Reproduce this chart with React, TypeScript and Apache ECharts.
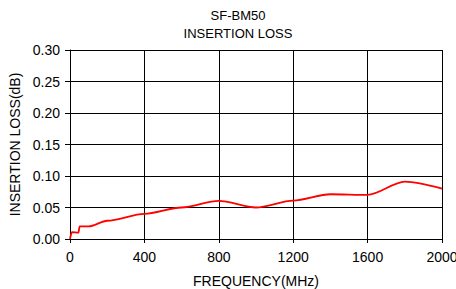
import React, { useEffect, useRef } from "react";
import * as echarts from "echarts";

const frequencies = [0, 10, 45, 52, 100, 200, 400, 600, 800, 1000, 1200, 1400, 1600, 1800, 2000];
const lossValues = [0.0, 0.011, 0.010, 0.020, 0.020, 0.029, 0.040, 0.050, 0.0605, 0.050, 0.061, 0.071, 0.070, 0.091, 0.080];
const titleLines = ["SF-BM50", "INSERTION LOSS"];
const xAxisName = "FREQUENCY(MHz)";
const yAxisName = "INSERTION LOSS(dB)";

const FONT = "'Liberation Sans', Arial, sans-serif";

export default function App() {
  const ref = useRef<HTMLDivElement>(null);
  useEffect(() => {
    if (!ref.current) return;
    const chart = echarts.init(ref.current, undefined, { renderer: "svg" });
    const data = frequencies.map((f, i) => [f, lossValues[i]]);
    chart.setOption({
      animation: false,
      backgroundColor: "#ffffff",
      title: {
        text: titleLines.join("\n"),
        left: 233,
        top: 1,
        textAlign: "center",
        textStyle: { fontFamily: FONT, fontSize: 13, fontWeight: "normal", color: "#000", lineHeight: 18 },
      },
      grid: { left: 70, right: 14, top: 50, bottom: 50, containLabel: false, outerBoundsMode: "none" },
      xAxis: {
        type: "value",
        min: 0,
        max: 2000,
        interval: 400,
        name: xAxisName,
        nameLocation: "middle",
        nameGap: 35,
        nameTextStyle: { fontFamily: FONT, fontSize: 14, color: "#000" },
        axisLine: { show: true, lineStyle: { color: "#000", width: 1 } },
        axisTick: { show: true, length: 4, lineStyle: { color: "#000" } },
        axisLabel: {
          fontFamily: FONT,
          fontSize: 14,
          color: "#000",
          margin: 11,
          formatter: (v: number) => String(v),
        },
        splitLine: { show: true, lineStyle: { color: "#000", width: 1 } },
      },
      yAxis: {
        type: "value",
        min: 0,
        max: 0.3,
        interval: 0.05,
        name: yAxisName,
        nameLocation: "middle",
        nameGap: 46,
        nameTextStyle: { fontFamily: FONT, fontSize: 14, color: "#000" },
        axisLine: { show: true, lineStyle: { color: "#000", width: 1 } },
        axisTick: { show: true, length: 5, lineStyle: { color: "#000" } },
        axisLabel: {
          fontFamily: FONT,
          fontSize: 14,
          color: "#000",
          margin: 10,
          formatter: (v: number) => v.toFixed(2),
        },
        splitLine: { show: true, lineStyle: { color: "#000", width: 1 } },
      },
      series: [
        {
          type: "line",
          data,
          showSymbol: false,
          smooth: 0.3,
          smoothMonotone: "x",
          lineStyle: { color: "#ff0000", width: 1.8 },
        },
      ],
    });
    return () => chart.dispose();
  }, []);
  return <div ref={ref} style={{ position: "absolute", left: 0, top: 0, width: 456, height: 289 }} />;
}
